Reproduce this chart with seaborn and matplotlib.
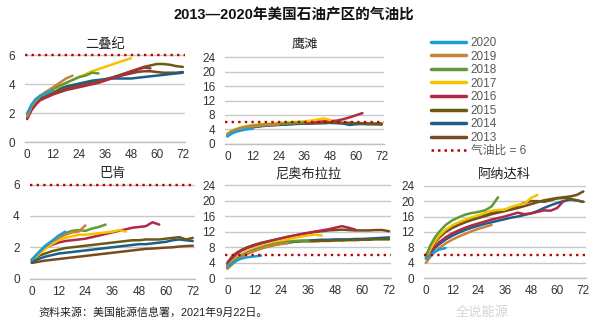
import matplotlib
matplotlib.use("Agg")
import matplotlib.pyplot as plt
import pandas as pd
import seaborn as sns
from matplotlib.lines import Line2D
from matplotlib.ticker import MultipleLocator

sns.set_style("white")
plt.rcParams["font.family"] = ["Liberation Sans", "Noto Sans CJK SC", "DejaVu Sans"]

W, H = 600, 325

YEARS = ["2020", "2019", "2018", "2017", "2016", "2015", "2014", "2013"]
COLORS = ["#1a9ed8", "#c8823a", "#5f9a3a", "#f5c400", "#b02a48",
          "#6b5a12", "#1c5d8c", "#7a4a1e"]
GOR_LIMIT = 6
LIMIT_COLOR = "#c00000"

# months since first production; each series runs as far as its list goes
MONTHS = [0, 2, 4, 6, 9, 12, 15, 18, 21, 24, 27, 30, 33, 36, 39, 42, 45, 48,
          51, 54, 57, 60, 63, 66, 69, 72]

# 二叠纪 (Permian)
permian_2020 = [2.0, 2.6, 3.0, 3.2, 3.4, 3.6]
permian_2019 = [1.8, 2.5, 2.9, 3.2, 3.5, 3.8, 4.1, 4.4, 4.6]
permian_2018 = [1.8, 2.5, 2.9, 3.2, 3.5, 3.7, 3.9, 4.1, 4.3, 4.5, 4.6, 4.8, 4.75]
permian_2017 = [1.8, 2.5, 2.9, 3.2, 3.4, 3.6, 3.85, 4.1, 4.3, 4.5, 4.7, 4.9,
                5.05, 5.2, 5.35, 5.5, 5.65, 5.8]
permian_2016 = [1.6, 2.2, 2.6, 2.9, 3.1, 3.3, 3.45, 3.6, 3.7, 3.8, 3.9, 4.0,
                4.1, 4.25, 4.4, 4.55, 4.7, 4.85, 5.0, 5.15, 5.1]
permian_2015 = [1.7, 2.4, 2.8, 3.0, 3.2, 3.4, 3.55, 3.7, 3.8, 3.9, 4.0, 4.1,
                4.2, 4.3, 4.45, 4.6, 4.75, 4.9, 5.05, 5.2, 5.3, 5.4, 5.4,
                5.35, 5.25, 5.2]
permian_2014 = [1.8, 2.5, 2.9, 3.1, 3.35, 3.55, 3.7, 3.85, 3.95, 4.05, 4.15,
                4.25, 4.3, 4.35, 4.4, 4.4, 4.4, 4.4, 4.45, 4.5, 4.55, 4.6,
                4.65, 4.7, 4.75, 4.8]
permian_2013 = [1.7, 2.4, 2.8, 3.0, 3.25, 3.45, 3.6, 3.75, 3.85, 3.95, 4.05,
                4.15, 4.25, 4.35, 4.45, 4.55, 4.65, 4.75, 4.85, 4.9, 4.9,
                4.85, 4.8, 4.8, 4.8, 4.85]

# 鹰滩 (Eagle Ford)
eagle_2020 = [2.0, 2.8, 3.3, 3.6, 4.0, 4.2]
eagle_2019 = [2.4, 3.2, 3.8, 4.1, 4.5, 4.8, 5.0, 5.2, 5.3, 5.4]
eagle_2018 = [2.5, 3.4, 3.9, 4.3, 4.7, 5.0, 5.2, 5.3, 5.4, 5.5, 5.6, 5.7,
              5.8, 5.9]
eagle_2017 = [2.8, 3.6, 4.1, 4.5, 4.9, 5.2, 5.4, 5.5, 5.6, 5.8, 5.9, 6.0,
              6.1, 6.2, 6.4, 6.7, 7.0, 6.6]
eagle_2016 = [2.5, 3.3, 3.8, 4.2, 4.6, 4.9, 5.1, 5.3, 5.4, 5.5, 5.6, 5.7,
              5.8, 5.9, 6.0, 6.1, 6.2, 6.3, 6.4, 6.8, 7.3, 7.9, 8.5]
eagle_2015 = [2.5, 3.3, 3.8, 4.2, 4.6, 4.8, 5.0, 5.2, 5.3, 5.4, 5.5, 5.6,
              5.7, 5.7, 5.8, 5.8, 5.9, 5.9, 5.9, 5.8, 5.8, 5.7, 5.7, 5.6,
              5.6, 5.6]
eagle_2014 = [2.2, 3.0, 3.6, 4.0, 4.4, 4.6, 4.8, 5.0, 5.1, 5.2, 5.3, 5.4,
              5.5, 5.6, 5.6, 5.7, 5.7, 5.8, 5.7, 5.6, 5.2, 5.4, 5.5, 5.5,
              5.5, 5.5]
eagle_2013 = [2.5, 3.3, 3.8, 4.1, 4.5, 4.7, 4.9, 5.1, 5.2, 5.3, 5.4, 5.5,
              5.6, 5.6, 5.7, 5.7, 5.8, 5.8, 5.8, 5.7, 5.7, 5.6, 5.5, 5.4,
              5.4, 5.3]

# 巴肯 (Bakken)
bakken_2020 = [1.2, 1.5, 1.8, 2.1, 2.4, 2.75, 3.0]
bakken_2019 = [1.2, 1.5, 1.8, 2.05, 2.35, 2.6, 2.8, 2.95, 3.0, 3.4]
bakken_2018 = [1.2, 1.5, 1.8, 2.05, 2.4, 2.65, 2.9, 3.05, 3.1, 3.05, 3.2,
               3.3, 3.45]
bakken_2017 = [1.2, 1.4, 1.65, 1.9, 2.2, 2.45, 2.6, 2.7, 2.8, 2.8, 2.85,
               2.9, 2.95, 3.0, 3.1, 3.0]
bakken_2016 = [1.2, 1.5, 1.75, 1.95, 2.15, 2.3, 2.4, 2.45, 2.5, 2.55, 2.65,
               2.75, 2.85, 2.95, 3.05, 3.15, 3.25, 3.3, 3.35, 3.6, 3.45]
bakken_2015 = [1.2, 1.35, 1.5, 1.6, 1.75, 1.85, 1.95, 2.0, 2.05, 2.1, 2.15,
               2.2, 2.25, 2.3, 2.35, 2.4, 2.45, 2.45, 2.5, 2.5, 2.5, 2.55,
               2.6, 2.65, 2.5, 2.6]
bakken_2014 = [1.1, 1.2, 1.3, 1.4, 1.5, 1.6, 1.65, 1.7, 1.75, 1.8, 1.85,
               1.9, 1.95, 2.0, 2.05, 2.1, 2.15, 2.2, 2.2, 2.25, 2.3, 2.35,
               2.45, 2.5, 2.45, 2.4]
bakken_2013 = [1.0, 1.05, 1.1, 1.15, 1.2, 1.25, 1.3, 1.35, 1.4, 1.45, 1.5,
               1.55, 1.6, 1.65, 1.7, 1.75, 1.8, 1.85, 1.9, 1.92, 1.95, 1.98,
               2.0, 2.05, 2.08, 2.1]

# 尼奥布拉拉 (Niobrara)
niobrara_2020 = [3.0, 3.8, 4.5, 5.0, 5.4, 5.6, 5.8]
niobrara_2019 = [2.5, 3.5, 4.5, 5.3, 6.3, 7.0, 7.6, 8.1, 8.5, 8.8, 9.0]
niobrara_2018 = [2.8, 3.9, 4.9, 5.7, 6.6, 7.3, 7.9, 8.4, 8.8, 9.1, 9.4, 9.6,
                 9.7, 9.6]
niobrara_2017 = [3.0, 4.2, 5.2, 6.0, 6.9, 7.6, 8.2, 8.7, 9.2, 9.6, 10.0,
                 10.4, 10.7, 11.0, 11.2, 11.0]
niobrara_2016 = [3.5, 5.0, 6.2, 7.0, 7.8, 8.4, 8.9, 9.4, 9.8, 10.2, 10.6,
                 11.0, 11.4, 11.7, 12.0, 12.3, 12.6, 13.0, 13.4, 13.0, 12.5]
niobrara_2015 = [3.0, 4.2, 5.2, 6.0, 6.9, 7.5, 8.0, 8.4, 8.7, 9.0, 9.2, 9.4,
                 9.5, 9.5, 9.5, 9.6, 9.6, 9.7, 9.7, 9.8, 9.8, 9.9, 9.9, 10.0,
                 10.0, 10.0]
niobrara_2014 = [2.5, 3.6, 4.6, 5.4, 6.4, 7.1, 7.7, 8.2, 8.6, 8.9, 9.2, 9.4,
                 9.6, 9.7, 9.8, 9.9, 9.9, 10.0, 10.0, 10.0, 10.1, 10.1, 10.2,
                 10.3, 10.4, 10.5]
niobrara_2013 = [4.0, 5.5, 6.5, 7.2, 8.0, 8.6, 9.1, 9.5, 9.9, 10.3, 10.7,
                 11.0, 11.3, 11.6, 11.9, 12.1, 12.3, 12.4, 12.5, 12.4, 12.3,
                 12.3, 12.3, 12.4, 12.4, 12.1]

# 阿纳达科 (Anadarko)
anadarko_2020 = [5.0, 6.0, 6.8, 7.4, 7.8]
anadarko_2019 = [4.0, 5.5, 6.8, 7.8, 9.0, 10.0, 10.8, 11.5, 12.2, 12.8, 13.3,
                 13.8]
anadarko_2018 = [5.5, 8.5, 10.5, 12.0, 13.8, 15.0, 15.8, 16.5, 16.9, 17.2,
                 17.6, 18.6, 21.0]
anadarko_2017 = [5.0, 7.5, 9.5, 11.0, 12.6, 13.7, 14.5, 15.2, 15.8, 16.3,
                 16.9, 17.5, 17.7, 17.8, 18.5, 19.0, 19.3, 20.8, 21.6]
anadarko_2016 = [5.0, 6.8, 8.2, 9.3, 10.6, 11.6, 12.4, 13.1, 13.7, 14.2, 14.7,
                 15.2, 15.6, 16.0, 16.5, 17.0, 16.6, 16.8, 17.2, 17.6, 17.5,
                 18.2, 20.0]
anadarko_2015 = [6.0, 8.0, 9.6, 10.8, 12.2, 13.3, 14.1, 14.8, 15.4, 15.9, 16.4,
                 16.9, 17.3, 17.7, 18.2, 18.8, 19.5, 20.0, 20.0, 19.8, 20.2,
                 20.7, 20.8, 20.6, 20.2, 19.8]
anadarko_2014 = [5.0, 6.5, 7.8, 8.8, 10.0, 11.0, 11.8, 12.5, 13.1, 13.6, 14.1,
                 14.5, 14.9, 15.3, 15.7, 16.0, 16.4, 16.8, 17.4, 18.2, 18.9,
                 19.5, 20.0, 20.4, 20.2, 19.8]
anadarko_2013 = [5.5, 7.5, 9.2, 10.5, 12.0, 13.0, 13.8, 14.5, 15.1, 15.6, 16.1,
                 16.6, 17.0, 17.4, 17.8, 18.2, 18.7, 19.2, 19.7, 20.2, 20.5,
                 20.8, 21.0, 21.2, 21.6, 22.5]

REGIONS = [
    ("二叠纪", [permian_2020, permian_2019, permian_2018, permian_2017,
              permian_2016, permian_2015, permian_2014, permian_2013]),
    ("鹰滩", [eagle_2020, eagle_2019, eagle_2018, eagle_2017, eagle_2016,
             eagle_2015, eagle_2014, eagle_2013]),
    ("巴肯", [bakken_2020, bakken_2019, bakken_2018, bakken_2017, bakken_2016,
             bakken_2015, bakken_2014, bakken_2013]),
    ("尼奥布拉拉", [niobrara_2020, niobrara_2019, niobrara_2018, niobrara_2017,
               niobrara_2016, niobrara_2015, niobrara_2014, niobrara_2013]),
    ("阿纳达科", [anadarko_2020, anadarko_2019, anadarko_2018, anadarko_2017,
              anadarko_2016, anadarko_2015, anadarko_2014, anadarko_2013]),
]

# panel frames in pixels: left, right, y of value 0, y of top tick, top value, tick step
FRAMES = [
    (25.0, 185.0, 142.3, 55.3, 6, 2),
    (225.2, 383.9, 143.7, 57.3, 24, 4),
    (29.5, 195.0, 278.6, 184.7, 6, 2),
    (225.1, 391.3, 278.2, 185.0, 24, 4),
    (423.8, 585.5, 278.1, 185.7, 24, 4),
]

GRID = "#c8c8c8"
TICK_TEXT = "#333333"


def long_frame(series):
    rows = []
    for year, vals in zip(YEARS, series):
        for m, v in zip(MONTHS, vals):
            rows.append((year, m, v))
    return pd.DataFrame(rows, columns=["year", "month", "gor"])


fig = plt.figure(figsize=(W / 100, H / 100), dpi=100)
palette = dict(zip(YEARS, COLORS))

for (title, series), (left, right, y0, ytop, top, step) in zip(REGIONS, FRAMES):
    unit = (y0 - ytop) / top
    ymax = top * 1.033
    axes_top = y0 - ymax * unit
    ax = fig.add_axes([left / W, 1 - y0 / H, (right - left) / W,
                       (y0 - axes_top) / H])
    df = long_frame(series)
    sns.lineplot(data=df, x="month", y="gor", hue="year",
                 hue_order=YEARS[::-1], palette=palette, lw=1.8,
                 legend=False, ax=ax, zorder=3)
    ax.axhline(GOR_LIMIT, color=LIMIT_COLOR, ls=(0, (1, 1.8)), lw=1.7, zorder=4)
    ax.set_xlim(-1, 73)
    ax.set_ylim(0, ymax)
    ax.set_xticks(range(0, 73, 12))
    ax.xaxis.set_minor_locator(MultipleLocator(1))
    ax.set_yticks(range(0, top + 1, step))
    ax.yaxis.grid(True, color=GRID, lw=1.0, zorder=0)
    ax.set_axisbelow(True)
    for side in ("top", "right", "left"):
        ax.spines[side].set_visible(False)
    ax.spines["bottom"].set_color("#bfbfbf")
    ax.spines["bottom"].set_linewidth(1.0)
    ax.tick_params(axis="x", which="both", direction="out", color="#bfbfbf",
                   length=3, width=0.6, labelsize=8.5, labelcolor=TICK_TEXT,
                   pad=2)
    ax.tick_params(axis="y", length=0, labelsize=8.5, labelcolor=TICK_TEXT,
                   pad=7)
    ax.set_xlabel("")
    ax.set_ylabel("")
    fig.text((left + right) / 2 / W, 1 - (ytop - 11) / H, title,
             ha="center", va="center", fontsize=9.5, color="#222222")

handles = [Line2D([], [], color=c, lw=2.5) for c in COLORS]
handles.append(Line2D([], [], color=LIMIT_COLOR, ls=(0, (1, 1.6)), lw=1.8))
labels = YEARS + ["气油比 = 6"]
fig.legend(handles, labels, loc="upper left", bbox_to_anchor=(431 / W, 1 - 37 / H),
           frameon=False, fontsize=8.5, labelcolor="#595959", handlelength=3.0,
           handletextpad=0.35, labelspacing=0.13, borderpad=0, borderaxespad=0)

fig.text(0.49, 1 - 15 / H, "2013—2020年美国石油产区的气油比", ha="center",
         va="center", fontsize=10.5, fontweight="bold", color="#111111")
fig.text(38 / W, 1 - 313 / H, "资料来源：美国能源信息署，2021年9月22日。",
         ha="left", va="center", fontsize=7.9, color="#222222")
fig.text(482 / W, 1 - 312 / H, "全说能源", ha="center", va="center",
         fontsize=9.5, color="#d4d4d4", zorder=0)

fig.savefig("out.png", dpi=100)
